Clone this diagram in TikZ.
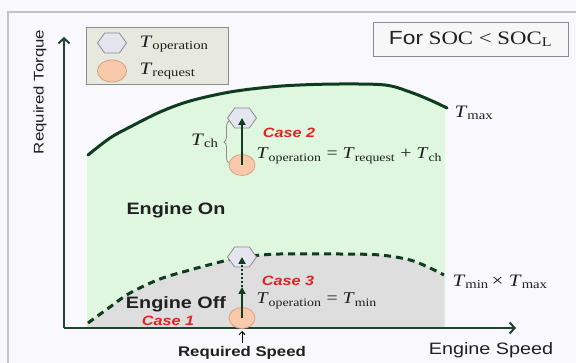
\documentclass[tikz,border=0pt]{standalone}
\usepackage{fontspec}
\setmainfont{Liberation Serif}[FakeStretch=1.2]
\setsansfont{Liberation Sans}[FakeStretch=1.2]
\usetikzlibrary{shapes.geometric,arrows.meta,decorations.pathreplacing,calc}
\definecolor{bg}{HTML}{F9F8FC}
\definecolor{framec}{HTML}{C4C4C4}
\definecolor{axisg}{HTML}{1F4430}
\definecolor{curveg}{HTML}{0F3B1E}
\definecolor{greenfill}{HTML}{DEF7DE}
\definecolor{grayfill}{HTML}{DEDEDE}
\definecolor{legfill}{HTML}{E7E9DE}
\definecolor{hexfill}{HTML}{E4E5EE}
\definecolor{hexline}{HTML}{8C8C8C}
\definecolor{circfill}{HTML}{F8C9AB}
\definecolor{circline}{HTML}{D9A07E}
\definecolor{casered}{HTML}{E02424}
\definecolor{txt}{HTML}{202020}
\newcommand\Tsub[1]{\textit{T}\textsubscript{#1}}
\begin{document}
\begin{tikzpicture}[x=1pt,y=-1pt,
  axisline/.style={axisg,line width=2pt,-{Straight Barb[length=5pt,width=11pt,line width=2pt]}},
  hexnode/.style={regular polygon,regular polygon sides=6,minimum size=29pt,inner sep=0pt,yscale=0.8,transform shape,draw=hexline,fill=hexfill,line width=0.8pt},
  circnode/.style={ellipse,minimum width=26pt,minimum height=21pt,inner sep=0pt,draw=circline,fill=circfill,line width=0.8pt},
  casearrow/.style={curveg,line width=1.8pt,-{Triangle[length=7pt,width=7pt]}},
  bigsans/.style={font=\sffamily\bfseries\fontsize{16.5}{18}\selectfont,text=txt},
  casetxt/.style={font=\sffamily\bfseries\itshape\fontsize{13.5}{15}\selectfont,text=casered},
  serif/.style={font=\fontsize{16.5}{18}\selectfont,text=txt},
  lbl/.style={font=\fontsize{17.5}{19}\selectfont,text=txt},
  axtxt/.style={font=\sffamily\fontsize{14}{16}\selectfont,text=txt}
]
\useasboundingbox (0,0) rectangle (576,363);
\fill[bg] (0,0) rectangle (576,363);
\draw[framec,line width=1.5pt] (8,363) -- (8,12) -- (576,12);

% regions
\fill[greenfill] (87,328) -- plot[smooth,tension=0.55] coordinates {(87,155) (110,138) (130,127) (160,112) (190,101) (230,92) (270,87) (300,85) (340,84) (385,85) (410,92) (430,100) (445,108)} -- (445,328) -- cycle;
\fill[grayfill] (87,328) -- plot[smooth,tension=0.55] coordinates {(87,323) (110,307) (130,293) (160,279) (190,270) (220,262) (242,257) (280,254) (340,254) (380,255) (410,260) (430,268) (444,275)} -- (444,328) -- cycle;

% curves
\draw[curveg,line width=3pt,line cap=round] plot[smooth,tension=0.55] coordinates {(88,155) (110,138) (130,127) (160,112) (190,101) (230,92) (270,87) (300,85) (340,84) (385,85) (410,92) (430,100) (447,108)};
\draw[curveg,line width=3pt,dash pattern=on 7pt off 5pt] plot[smooth,tension=0.55] coordinates {(88,323) (110,307) (130,293) (160,279) (190,270) (220,262) (242,257) (280,254) (340,254) (380,255) (410,260) (430,268) (444,275)};

% axes
\coordinate (O) at (64,328);
\coordinate (ytip) at (64,37);
\coordinate (xtip) at (516,328);
\draw[axisline] (O) -- (ytip);
\draw[axisline] (O) -- (xtip);
\node[axtxt,rotate=90] (ylab) at (40,92) {Required Torque};
\node[axtxt,font=\sffamily\fontsize{16.5}{18}\selectfont] (xlab) at (491,350) {Engine Speed};
\node[axtxt,font=\sffamily\bfseries\fontsize{14}{16}\selectfont] (rs) at (242,353) {Required Speed};
\coordinate (rstip) at (242,331);
\draw[black,line width=1pt,-{Straight Barb[length=3pt,width=6pt]}] (rs.north) -- (rstip);

% legend
\node[draw=hexline,fill=legfill,line width=0.8pt,minimum width=142pt,minimum height=57pt,inner sep=0pt] (leg) at (157,55.5) {};
\node[hexnode] (lh) at (112,43) {};
\node[circnode,minimum width=29pt,minimum height=22pt] (lc) at (112,71) {};
\node[lbl,anchor=west] (lt1) at (136,44) {\Tsub{operation}};
\node[lbl,anchor=west] (lt2) at (136,71) {\Tsub{request}};

% SOC box
\node[draw=hexline,fill=white!94!gray,line width=0.8pt,minimum width=195pt,minimum height=34pt,inner sep=0pt,font=\fontsize{19}{21}\selectfont,text=txt] (soc) at (470.5,39) {{\sffamily For} SOC < SOC\textsubscript{L}};

% curve labels
\node[lbl,anchor=west] (tmax) at (451,113) {\Tsub{max}};
\node[lbl,anchor=west] (tminmax) at (449,282) {\Tsub{min}\,×\ \Tsub{max}};

% region labels
\node[bigsans] (on) at (176,210) {Engine On};
\node[bigsans] (off) at (176,304) {Engine Off};
\node[casetxt] (case1) at (168,321) {Case 1};

% Case 2
\node[hexnode] (h2) at (242,118) {};
\node[circnode] (c2) at (242,165) {};
\draw[casearrow] (c2.center) -- (h2.center);
\draw[hexline,line width=0.8pt,decorate,decoration={brace,amplitude=5pt}] (229,163) -- (229,121);
\node[lbl,anchor=east] (tch) at (222,141) {\Tsub{ch}};
\node[casetxt] (case2) at (289,133) {Case 2};
\node[serif,anchor=west] (eq2) at (253,156) {\Tsub{operation} = \Tsub{request} + \Tsub{ch}};

% Case 3
\node[hexnode] (h3) at (242,257) {};
\node[circnode] (c3) at (242,318) {};
\coordinate (mid3) at (242,287);
\draw[casearrow] (c3.center) -- (mid3);
\draw[curveg,line width=1.8pt,dash pattern=on 2pt off 2pt,-{Triangle[length=7pt,width=7pt]}] (mid3) -- (h3.center);
\node[casetxt] (case3) at (288,281) {Case 3};
\node[serif,anchor=west] (eq3) at (253,301) {\Tsub{operation} = \Tsub{min}};
\end{tikzpicture}
\end{document}
